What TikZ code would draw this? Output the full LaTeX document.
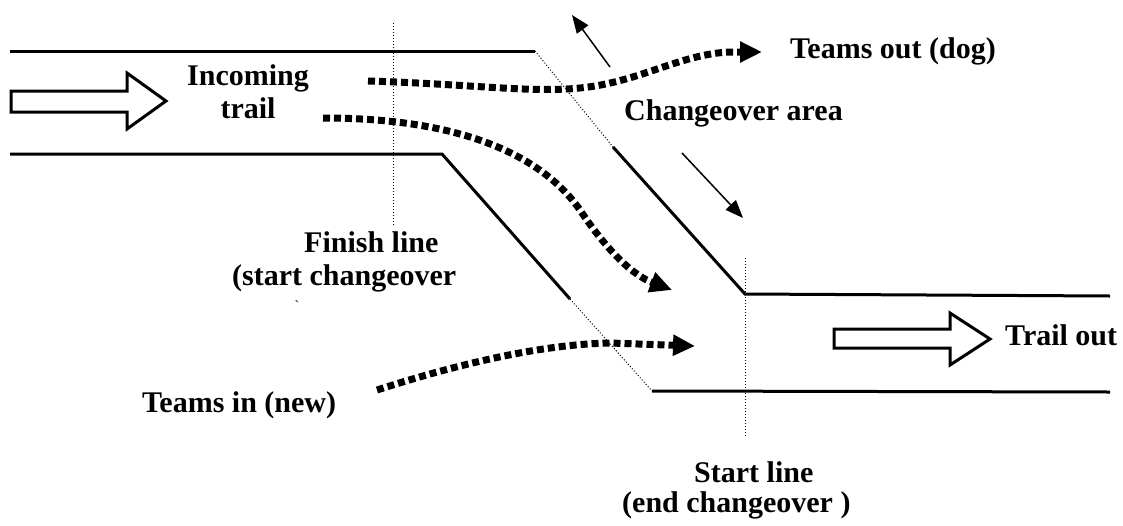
\documentclass[tikz,border=0pt]{standalone}
\usepackage{fontspec}
\setmainfont{Liberation Serif}
\usetikzlibrary{arrows.meta}

\newcommand{\lblfont}{\fontsize{30}{34}\selectfont\bfseries}

\tikzset{
    trailedge/.style={line width=3pt, line cap=butt},
    markline/.style={line width=1pt, dotted},
    teampath/.style={line width=7pt, dash pattern=on 7pt off 4pt,
        -{Triangle[length=22pt, width=20pt]}},
    flowarrow/.style={line width=1.5pt, -{Triangle[length=18pt, width=14pt]}},
    hollowarrow/.style={line width=3pt, line join=miter},
    lbl/.style={font=\lblfont, inner sep=0pt}
}

\begin{document}
\begin{tikzpicture}[x=1pt, y=-1pt]
    \useasboundingbox (0, 0) rectangle (1123, 525);

    % draw trail edges
    \draw[trailedge] (10, 51) -- (535, 51);
    \draw[trailedge] (10, 154) -- (442, 154) -- (570, 299);
    \draw[trailedge] (613, 147) -- (745, 294) -- (1110, 296);
    \draw[trailedge] (652, 391) -- (1110, 392);

    % draw thin dotted lines
    \draw[markline] (535, 51) -- (613, 147);
    \draw[markline] (570, 299) -- (652, 391);
    \draw[markline] (393, 23) -- (393, 225);
    \draw[markline] (745, 258) -- (745, 437);

    % draw hollow arrows
    \draw[hollowarrow] (11, 91) -- (127, 91) -- (127, 73) -- (166, 101) -- (127, 129)
        -- (127, 112) -- (11, 112) -- cycle;
    \draw[hollowarrow] (834, 329) -- (950, 329) -- (950, 313) -- (990, 339) -- (950, 365)
        -- (950, 348) -- (834, 348) -- cycle;

    % labels
    \node[lbl, anchor=base] (incoming) at (248, 85) {Incoming};
    \node[lbl, anchor=base] (incomingb) at (248, 118) {trail};
    \node[lbl, anchor=base west] (teamsout) at (790, 58) {Teams out (dog)};
    \node[lbl, anchor=base west] (area) at (624, 120) {Changeover area};
    \node[lbl, anchor=base west] (finish) at (304, 252) {Finish line};
    \node[lbl, anchor=base west] (finishb) at (232, 285) {(start changeover};
    \node[inner sep=0pt] (tick) at (297, 306) {\fontsize{14}{16}\selectfont\textasciigrave};
    \node[lbl, anchor=base west] (teamsin) at (142, 412) {Teams in (new)};
    \node[lbl, anchor=base west] (trailout) at (1005, 345) {Trail out};
    \node[lbl, anchor=base west] (start) at (694, 482) {Start line};
    \node[lbl, anchor=base west] (startb) at (622, 512) {(end changeover )};

    % flow of the changeover area
    \coordinate (upA) at (610, 67);
    \coordinate (upB) at (572, 15);
    \coordinate (downA) at (682, 153);
    \coordinate (downB) at (743, 218);
    \draw[flowarrow] (upA) -- (upB);
    \draw[flowarrow] (downA) -- (downB);

    % team paths
    \coordinate (outA) at (368, 81);
    \coordinate (outB) at (762, 52);
    \coordinate (midA) at (323, 118);
    \coordinate (midB) at (672, 290);
    \coordinate (inA) at (377, 390);
    \coordinate (inB) at (695, 346);
    \draw[teampath] (outA) .. controls (470, 84) and (530, 93) .. (580, 88)
        .. controls (640, 82) and (680, 54) .. (730, 52) -- (outB);
    \draw[teampath] (midA) .. controls (470, 118) and (545, 160) .. (580, 210)
        .. controls (610, 255) and (635, 276) .. (midB);
    \draw[teampath] (inA) .. controls (470, 360) and (550, 344) .. (610, 343) -- (inB);
\end{tikzpicture}
\end{document}
